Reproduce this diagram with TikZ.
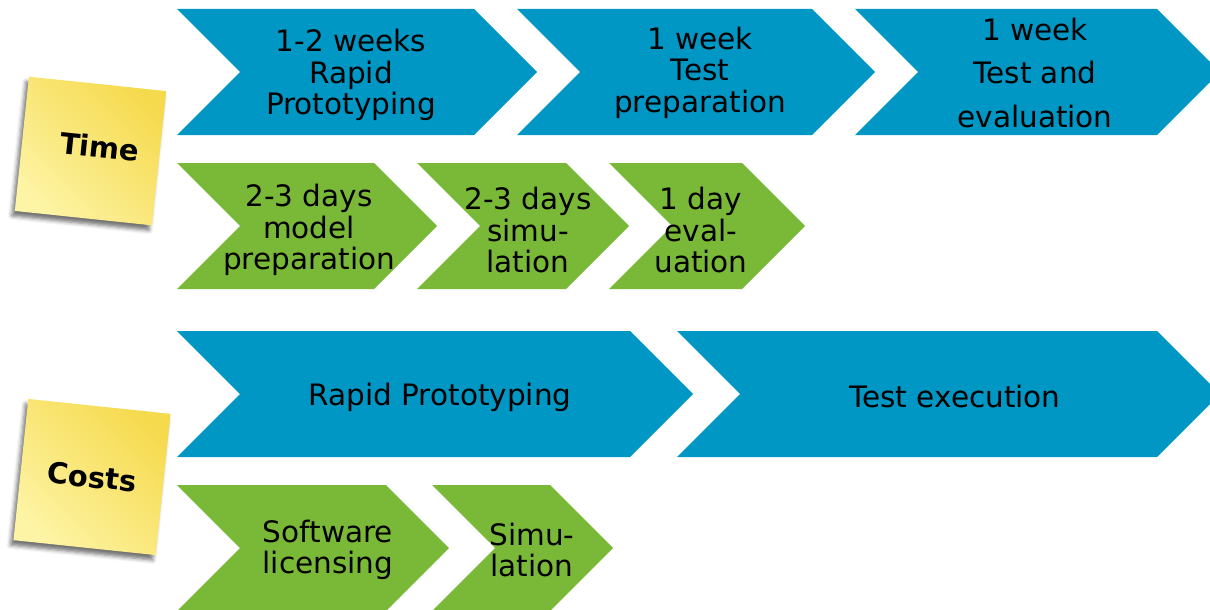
\documentclass[tikz,border=0pt]{standalone}
\usepackage{fontspec}
\setmainfont{DejaVu Sans}
\usetikzlibrary{shadows.blur}

\definecolor{cblue}{RGB}{0,151,196}
\definecolor{cgreen}{RGB}{122,185,56}
\definecolor{noteDark}{RGB}{246,218,78}
\definecolor{noteLight}{RGB}{253,244,165}

% chevron: #1 style, #2 left x, #3 tip x, #4 top y, #5 bottom y
\newcommand\chevshape[5]{%
  \fill[#1] (#2,#4) -- ({#3-63},#4) -- (#3,{(#4+#5)/2}) -- ({#3-63},#5)
    -- (#2,#5) -- ({#2+63},{(#4+#5)/2}) -- cycle;}

\begin{document}
\begin{tikzpicture}[x=1pt,y=-1pt,
  chevblue/.style={fill=cblue},
  chevgreen/.style={fill=cgreen},
  steptext/.style={align=center,text=black,inner sep=0pt,
    font=\fontsize{29.5}{31.5}\selectfont},
  note/.style={rectangle,inner sep=0pt,rotate=-6,
    bottom color=noteLight,top color=noteDark,shading angle=-45,
    blur shadow={shadow xshift=-3pt,shadow yshift=-5pt,
      shadow blur radius=4pt,shadow opacity=55}},
  notetext/.style={rotate=-6,inner sep=0pt,
    font=\fontsize{29}{32}\selectfont\bfseries}]
\useasboundingbox (0,0) rectangle (1210,610);
\clip (0,0) rectangle (1210,610);

% sticky notes
\node[note,minimum width=138pt,minimum height=135pt] (timenote) at (90.5,151) {};
\node[notetext] (timelabel) at (100,147) {Time};
\node[note,minimum width=143pt,minimum height=142pt] (costnote) at (92,477) {};
\node[notetext] (costlabel) at (92,477) {Costs};

% time: blue phases
\chevshape{chevblue}{177}{537}{9}{135}
\chevshape{chevblue}{517}{875}{9}{135}
\chevshape{chevblue}{855}{1220}{9}{135}
\node[steptext] (tb1) at (351,75) {1-2 weeks\\Rapid\\Prototyping};
\node[steptext] (tb2) at (700,72.5) {1 week\\Test\\preparation};
\node[steptext,font=\fontsize{29.5}{43.5}\selectfont] (tb3) at (1035,73) {1 week\\Test and\\evaluation};

% time: green steps
\chevshape{chevgreen}{177}{437}{163}{289}
\chevshape{chevgreen}{417}{629}{163}{289}
\chevshape{chevgreen}{609}{805}{163}{289}
\node[steptext] (tg1) at (309,230) {2-3 days\\model\\preparation};
\node[steptext] (tg2) at (528,230) {2-3 days\\simu-\\lation};
\node[steptext] (tg3) at (701,230) {1 day\\eval-\\uation};

% costs: blue phases
\chevshape{chevblue}{177}{693}{331}{457}
\chevshape{chevblue}{677}{1220}{331}{457}
\node[steptext] (cb1) at (440,397) {Rapid Prototyping};
\node[steptext] (cb2) at (955,396) {Test execution};

% costs: green steps
\chevshape{chevgreen}{177}{449}{485}{611}
\chevshape{chevgreen}{432}{613}{485}{611}
\node[steptext] (cg1) at (328,550) {Software\\licensing};
\node[steptext] (cg2) at (532,550) {Simu-\\lation};
\end{tikzpicture}
\end{document}
